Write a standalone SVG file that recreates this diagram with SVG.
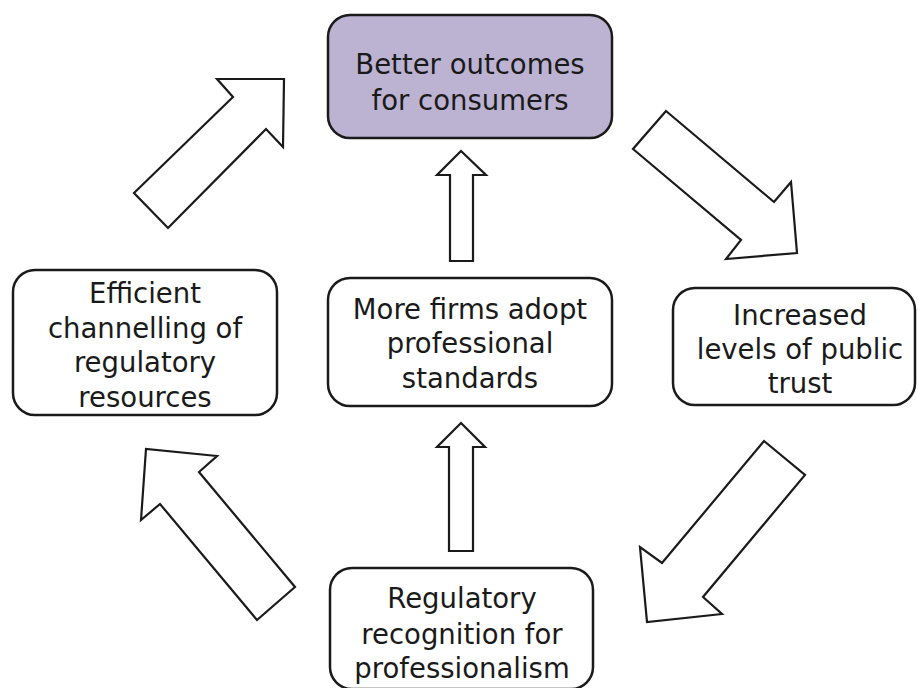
<svg xmlns="http://www.w3.org/2000/svg" width="918" height="688" viewBox="0 0 918 688">
  <style>
    .box { fill: #ffffff; stroke: #1a1a1a; stroke-width: 2.5; }
    .box.goal { fill: #bcb2d2; }
    .arrow { fill: #ffffff; stroke: #1a1a1a; stroke-width: 2.2; stroke-linejoin: miter; }
    text { font-family: "DejaVu Sans", "Liberation Sans", sans-serif; font-size: 27.5px; fill: #1a1a1a; text-anchor: middle; }
  </style>
  <rect x="0" y="0" width="918" height="688" fill="#ffffff"/>

  <!-- block arrows linking the stages of the cycle -->
  <g id="connectors">
    <polygon class="arrow" points="666,111 774,202 791,182 797,253 726,259 741,240 633,149"/>
    <polygon class="arrow" points="764,441 805,475 703,597 722,614 647,622 640,547 662,563"/>
    <polygon class="arrow" points="295,587 257,620 160,504 141,520 146,449 217,456 199,472"/>
    <polygon class="arrow" points="134,193 233,97 217,79 284,79 283,147 266,129 168,228"/>
    <polygon class="arrow" points="461,151 486,175 473,175 473,261 450,261 450,175 437,175"/>
    <polygon class="arrow" points="461,423 485,447 473,447 473,551 449,551 449,447 437,447"/>
  </g>

  <g id="better-outcomes">
    <rect class="box goal" x="328" y="15" width="284" height="123" rx="22"/>
    <text x="470" y="74">Better outcomes</text>
    <text x="470" y="110">for consumers</text>
  </g>

  <g id="efficient-channelling">
    <rect class="box" x="13" y="270" width="264" height="145" rx="22"/>
    <text x="145" y="303">Efficient</text>
    <text x="145" y="338">channelling of</text>
    <text x="145" y="372">regulatory</text>
    <text x="145" y="407">resources</text>
  </g>

  <g id="more-firms">
    <rect class="box" x="328" y="278" width="284" height="128" rx="22"/>
    <text x="470" y="319">More firms adopt</text>
    <text x="470" y="353">professional</text>
    <text x="470" y="388">standards</text>
  </g>

  <g id="public-trust">
    <rect class="box" x="673" y="288" width="242" height="117" rx="22"/>
    <text x="800" y="325">Increased</text>
    <text x="800" y="359">levels of public</text>
    <text x="800" y="393">trust</text>
  </g>

  <g id="regulatory-recognition">
    <rect class="box" x="330" y="568" width="263" height="121" rx="22"/>
    <text x="462" y="608">Regulatory</text>
    <text x="462" y="644">recognition for</text>
    <text x="462" y="678">professionalism</text>
  </g>
</svg>
